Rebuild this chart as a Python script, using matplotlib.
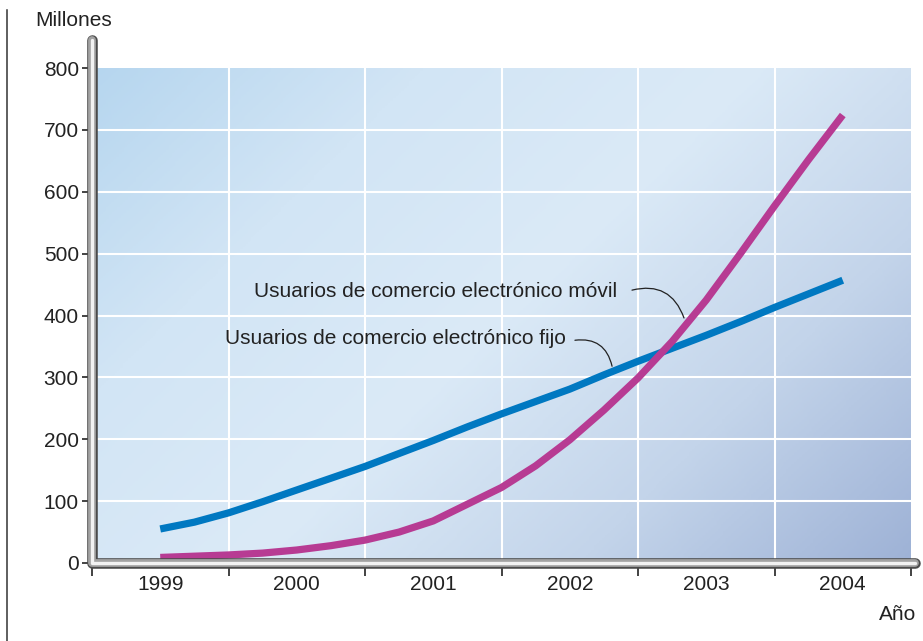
import numpy as np
import matplotlib

matplotlib.use("Agg")
import matplotlib.pyplot as plt
from matplotlib.colors import LinearSegmentedColormap
from matplotlib.lines import Line2D

plt.rcParams.update({
    "font.family": ["Liberation Sans", "DejaVu Sans"],
    "font.size": 15,
    "text.color": "#222222",
})

# values (quarter-year steps)
years = [1999, 1999.25, 1999.5, 1999.75, 2000, 2000.25, 2000.5, 2000.75,
         2001, 2001.25, 2001.5, 2001.75, 2002, 2002.25, 2002.5, 2002.75,
         2003, 2003.25, 2003.5, 2003.75, 2004]
fijo = [55, 66, 81, 99, 118, 137, 156, 177,
        198, 220, 241, 261, 281, 304, 326, 347,
        368, 390, 413, 435, 457]
movil = [9, 11, 13, 16, 21, 28, 37, 50,
         68, 95, 122, 157, 199, 247, 299, 358,
         425, 500, 577, 652, 724]

year_ticks = [1999, 2000, 2001, 2002, 2003, 2004]
year_labels = ["1999", "2000", "2001", "2002", "2003", "2004"]
y_ticks = [0, 100, 200, 300, 400, 500, 600, 700, 800]

BLUE = "#0078c1"
MAGENTA = "#b73b93"
INK = "#222222"
FS = 15

W, H = 923, 641
fig = plt.figure(figsize=(W / 100, H / 100), dpi=100)
fig.patch.set_facecolor("white")
ax = fig.add_axes([92 / W, (H - 563) / H, (911 - 92) / W, (563 - 68) / H])

# diagonal gradient background (light blue top-left -> slate bottom-right)
cmap = LinearSegmentedColormap.from_list(
    "bg", ["#b6d6ef", "#d2e5f5", "#dbeaf7", "#c3d4ea", "#9eb2d6"])
gx, gy = np.meshgrid(np.linspace(0, 1, 300), np.linspace(0, 1, 200))
grad = gx * 0.62 + gy * 0.38
ax.imshow(grad, cmap=cmap, extent=[0, 1, 0, 1], transform=ax.transAxes,
          aspect="auto", origin="upper", zorder=0, vmin=0, vmax=1)

ax.set_xlim(1998.5, 2004.5)
ax.set_ylim(0, 800)

for x in np.arange(1999.5, 2004.0, 1.0):
    ax.axvline(x, color="white", lw=1.5, zorder=1)
for y in y_ticks[1:-1]:
    ax.axhline(y, color="white", lw=1.5, zorder=1)

ax.plot(years, fijo, color=BLUE, lw=5.2, solid_capstyle="butt",
        solid_joinstyle="round", zorder=3)
ax.plot(years, movil, color=MAGENTA, lw=5.2, solid_capstyle="butt",
        solid_joinstyle="round", zorder=3)

for s in ax.spines.values():
    s.set_visible(False)

# ticks
ax.set_yticks(y_ticks)
ax.tick_params(axis="y", length=7.5, width=1.2, color=INK, pad=2,
               labelsize=FS, labelcolor=INK)
ax.set_xticks(np.arange(1998.5, 2004.6, 1.0))
ax.set_xticklabels([])
ax.tick_params(axis="x", which="major", length=9.5, width=1.2, color=INK)
ax.set_xticks(year_ticks, minor=True)
ax.set_xticklabels(year_labels, minor=True)
ax.tick_params(axis="x", which="minor", length=0, pad=9, labelsize=FS,
               labelcolor=INK)

# tube-like axis bar
bx = [0, 0, 1.005]
by = [1.057, 0, 0]
for lw, col in [(7.6, "#4a4a4a"), (5.6, "#a2a2a2"), (2.4, "#f2f2f2")]:
    ax.add_line(Line2D(bx, by, transform=ax.transAxes, lw=lw, color=col,
                       solid_capstyle="round", solid_joinstyle="round",
                       clip_on=False, zorder=6))

# series labels with curved leader lines
ax.text(2002.35, 438, "Usuarios de comercio electrónico móvil",
        ha="right", va="center", fontsize=FS, color=INK, zorder=4)
ax.annotate("", xy=(2002.837, 396), xytext=(2002.456, 441),
            arrowprops=dict(arrowstyle="-", color=INK, lw=0.9,
                            shrinkA=0, shrinkB=0,
                            connectionstyle="arc3,rad=-0.45"), zorder=4)
ax.text(2001.97, 363, "Usuarios de comercio electrónico fijo",
        ha="right", va="center", fontsize=FS, color=INK, zorder=4)
ax.annotate("", xy=(2002.31, 318), xytext=(2002.038, 360),
            arrowprops=dict(arrowstyle="-", color=INK, lw=0.9,
                            shrinkA=0, shrinkB=0,
                            connectionstyle="arc3,rad=-0.45"), zorder=4)

fig.text(35 / W, 1 - 20 / H, "Millones", ha="left", va="center",
         fontsize=FS, color=INK)
fig.text(916 / W, 1 - 615 / H, "Año", ha="right", va="center",
         fontsize=FS, color=INK)

# thin vertical rule at the far left
fig.add_artist(Line2D([7.5 / W, 7.5 / W], [0, 1 - 10 / H],
                      transform=fig.transFigure, color="#333333", lw=1.1))

fig.savefig("out.png", dpi=100)
